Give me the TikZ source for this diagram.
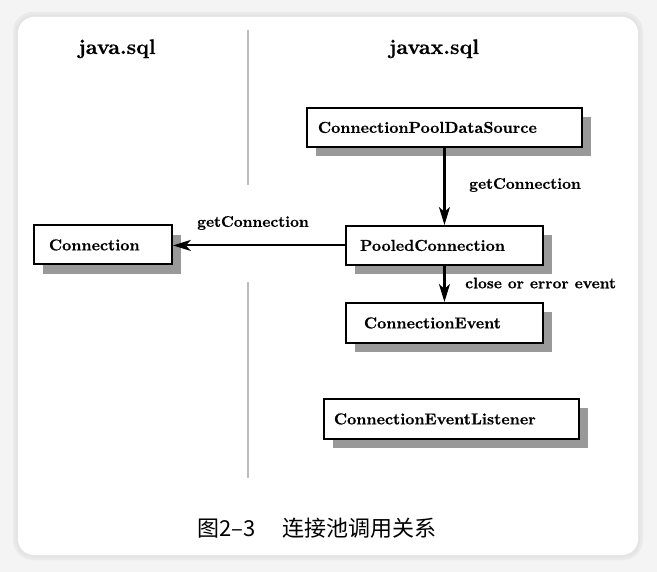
\documentclass[tikz,border=0pt]{standalone}
\usepackage{fontspec}
\newfontfamily\cjk{Noto Sans CJK SC}
\newfontfamily\heavy{lmroman10-bold.otf}[FakeBold=0.5]
\usetikzlibrary{arrows.meta,shadows}
\definecolor{bgout}{HTML}{F4F4F4}
\definecolor{bgband}{HTML}{E4E4E4}
\definecolor{divider}{HTML}{BDBDBD}
\definecolor{shadowgray}{HTML}{999999}
\tikzset{
  cls/.style={draw, line width=1.9pt, fill=white, anchor=north west,
    font=\heavy\fontsize{15.9}{18}\selectfont, align=left,
    minimum height=39pt, inner ysep=0pt,
    drop shadow={shadow xshift=9pt, shadow yshift=-9.5pt, fill=shadowgray, opacity=1}},
  lbl/.style={font=\heavy\fontsize{15.4}{18}\selectfont, inner sep=0pt},
  hdr/.style={font=\heavy\fontsize{21}{24}\selectfont, inner sep=0pt, anchor=base},
  arr/.style={line width=2.1pt, -{Stealth[length=18pt,width=11pt,inset=5pt]}},
  sep/.style={draw=divider, line width=1.5pt}
}
\begin{document}
\begin{tikzpicture}[x=1pt,y=-1pt]
  \useasboundingbox (0,0) rectangle (657,572);
  \fill[bgout] (0,0) rectangle (657,572);
  \fill[bgband!60!bgout, rounded corners=20pt] (13,12) rectangle (643,560);
  \fill[bgband, rounded corners=18pt] (15.5,14.5) rectangle (640.5,557.5);
  \fill[white, rounded corners=16pt] (18,17) rectangle (638,555);

  \node[hdr] (hjava) at (117,54) {java.sql};
  \node[hdr] (hjavax) at (434,54) {javax.sql};

  \coordinate (s1a) at (248,30);
  \coordinate (s1b) at (248,185);
  \coordinate (s2a) at (248,282);
  \coordinate (s2b) at (248,478);
  \draw[sep] (s1a) -- (s1b);
  \draw[sep] (s2a) -- (s2b);

  \node[cls, inner xsep=11pt, text width=253pt] (cpds) at (306,107) {ConnectionPoolDataSource};
  \node[cls, inner xsep=14pt, text width=169pt] (pooled) at (345,225) {PooledConnection};
  \node[cls, inner xsep=15pt, text width=108pt] (conn) at (33,224.5) {Connection};
  \node[cls, inner xsep=18pt, text width=161pt, minimum height=40pt] (event) at (345,302) {ConnectionEvent};
  \node[cls, inner xsep=10pt, text width=235pt, minimum height=40pt] (listener) at (323,398) {ConnectionEventListener};

  \draw[arr] (cpds.south) -- (pooled.north);
  \draw[arr] (pooled.south) -- (event.north);
  \draw[arr] (pooled.west) -- (pooled.west -| conn.east);

  \node[lbl, anchor=west] (l1) at (469,185) {getConnection};
  \node[lbl] (l2) at (253,223) {getConnection};
  \node[lbl, anchor=west] (l3) at (465,283) {close or error event};

  \node[font=\cjk\fontsize{22}{24}\selectfont, inner sep=0pt, anchor=west] (cap) at (197,528) {图2–3\hspace{1.25em}连接池调用关系};
\end{tikzpicture}
\end{document}
